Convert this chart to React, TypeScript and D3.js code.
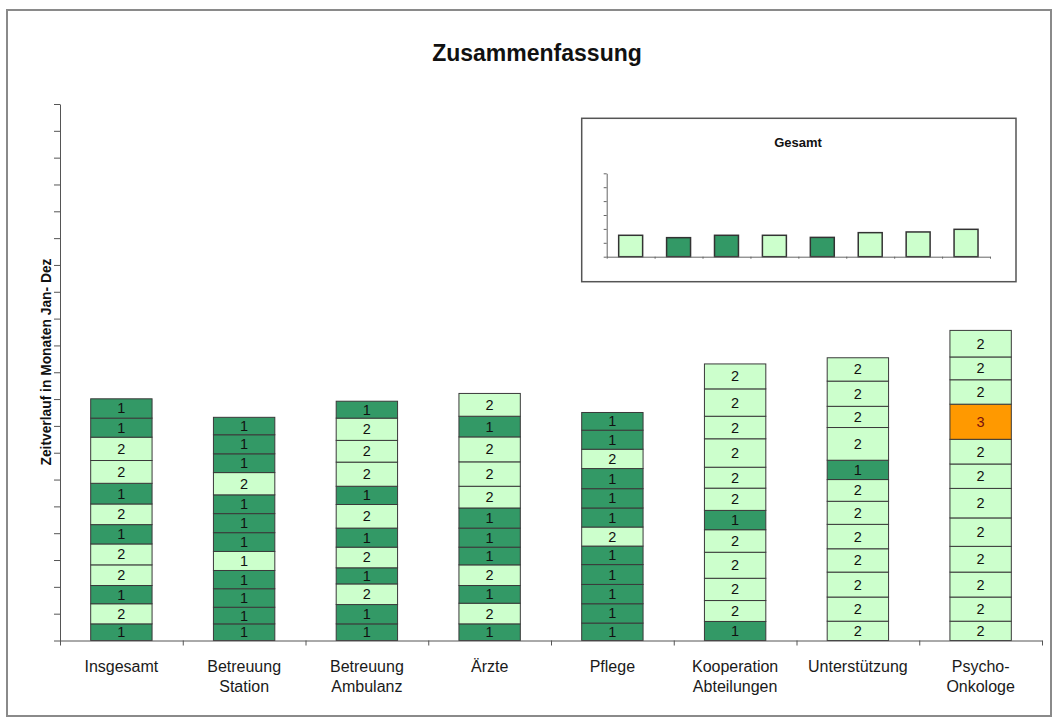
import React, {useEffect, useRef} from 'react';
import * as d3 from 'd3';

// categories (two-line labels under the x axis)
const categories: string[][] = [
  ["Insgesamt"],
  ["Betreuung", "Station"],
  ["Betreuung", "Ambulanz"],
  ["Ärzte"],
  ["Pflege"],
  ["Kooperation", "Abteilungen"],
  ["Unterstützung"],
  ["Psycho-", "Onkologe"],
];

const months = ["Jan", "Feb", "Mär", "Apr", "Mai", "Jun", "Jul", "Aug", "Sep", "Okt", "Nov", "Dez"];

// segment heights per month, bottom (Jan) to top (Dez)
const insgesamtValues = [0.62, 0.75, 0.68, 0.77, 0.78, 0.72, 0.77, 0.77, 0.85, 0.87, 0.71, 0.72];
const stationValues = [0.62, 0.62, 0.69, 0.68, 0.71, 0.70, 0.71, 0.70, 0.83, 0.70, 0.71, 0.65];
const ambulanzValues = [0.62, 0.72, 0.77, 0.60, 0.77, 0.71, 0.88, 0.68, 0.90, 0.81, 0.83, 0.63];
const aerzteValues = [0.62, 0.77, 0.66, 0.77, 0.66, 0.71, 0.75, 0.81, 0.91, 0.93, 0.77, 0.85];
const pflegeValues = [0.65, 0.72, 0.72, 0.74, 0.69, 0.71, 0.71, 0.72, 0.75, 0.72, 0.71, 0.66];
const kooperationValues = [0.71, 0.78, 0.83, 0.97, 0.84, 0.72, 0.83, 0.78, 1.06, 0.84, 1.02, 0.93];
const unterstuetzungValues = [0.72, 0.90, 0.93, 0.87, 0.91, 0.86, 0.81, 0.72, 1.22, 0.79, 0.94, 0.87];
const psychoValues = [0.72, 0.90, 0.93, 0.96, 1.06, 1.10, 0.91, 0.92, 1.31, 0.91, 0.85, 0.99];

// grade per month (controls colour and label), bottom to top
const insgesamtGrades = [1, 2, 1, 2, 2, 1, 2, 1, 2, 2, 1, 1];
const stationGrades = [1, 1, 1, 1, 2, 1, 1, 1, 2, 1, 1, 1];
const ambulanzGrades = [1, 1, 2, 1, 2, 1, 2, 1, 2, 2, 2, 1];
const aerzteGrades = [1, 2, 1, 2, 1, 1, 1, 2, 2, 2, 1, 2];
const pflegeGrades = [1, 1, 1, 1, 1, 2, 1, 1, 1, 2, 1, 1];
const kooperationGrades = [1, 2, 2, 2, 2, 1, 2, 2, 2, 2, 2, 2];
const unterstuetzungGrades = [2, 2, 2, 2, 2, 2, 2, 1, 2, 2, 2, 2];
const psychoGrades = [2, 2, 2, 2, 2, 2, 2, 2, 3, 2, 2, 2];

// one cell is light green but labelled "1" in the original
const labelOverrides = [{cat: 1, month: 4, label: "1"}];

// small "Gesamt" inset
const gesamtValues = [1.54, 1.37, 1.54, 1.54, 1.39, 1.73, 1.78, 1.97];
const gesamtGrades = [2, 1, 1, 2, 1, 2, 2, 2];

const allValues = [insgesamtValues, stationValues, ambulanzValues, aerzteValues,
  pflegeValues, kooperationValues, unterstuetzungValues, psychoValues];
const allGrades = [insgesamtGrades, stationGrades, ambulanzGrades, aerzteGrades,
  pflegeGrades, kooperationGrades, unterstuetzungGrades, psychoGrades];

const gradeColor: Record<number, string> = {1: "#339966", 2: "#CCFFCC", 3: "#FF9900"};
const FONT = "'Liberation Sans', Arial, sans-serif";

const App = () => {
  const ref = useRef<SVGSVGElement>(null);

  useEffect(() => {
    const svg = d3.select(ref.current);
    svg.selectAll("*").remove();

    // outer frame
    svg.append("rect")
      .attr("x", 7).attr("y", 10).attr("width", 1044).attr("height", 706)
      .attr("fill", "white").attr("stroke", "#8a8a8a").attr("stroke-width", 2);

    svg.append("text")
      .attr("x", 537).attr("y", 61)
      .attr("text-anchor", "middle")
      .attr("font-family", FONT).attr("font-size", 23).attr("font-weight", "bold")
      .attr("fill", "#111")
      .text("Zusammenfassung");

    const catNames = categories.map(c => c.join(" "));
    const x = d3.scaleBand<string>().domain(catNames).range([60, 1042])
      .paddingInner(0.5).paddingOuter(0.25);
    const y = d3.scaleLinear().domain([0, 20]).range([640.5, 104]);

    // stack data: one row per category, one key per month
    const rows = catNames.map((name, i) => {
      const r: any = {name};
      months.forEach((m, j) => { r[m] = allValues[i][j]; });
      return r;
    });
    const stacked = d3.stack<any>().keys(months)(rows);

    const plot = svg.append("g");
    stacked.forEach((layer, mi) => {
      layer.forEach((d, ci) => {
        const grade = allGrades[ci][mi];
        const over = labelOverrides.find(o => o.cat === ci && o.month === mi);
        const x0 = x(d.data.name)!;
        plot.append("rect")
          .attr("x", x0).attr("y", y(d[1]))
          .attr("width", x.bandwidth()).attr("height", y(d[0]) - y(d[1]))
          .attr("fill", gradeColor[grade])
          .attr("stroke", "#3a3a3a").attr("stroke-width", 1);
        plot.append("text")
          .attr("x", x0 + x.bandwidth() / 2)
          .attr("y", (y(d[0]) + y(d[1])) / 2 + 5)
          .attr("text-anchor", "middle")
          .attr("font-family", FONT).attr("font-size", 14.5)
          .attr("fill", grade === 3 ? "#7a1010" : "#111")
          .text(over ? over.label : String(grade));
      });
    });

    // y axis: unlabelled ticks
    const yAxis = svg.append("g")
      .attr("transform", "translate(60,0)")
      .call(d3.axisLeft(y).ticks(20).tickSize(6).tickSizeOuter(0).tickFormat(() => ""));
    yAxis.selectAll("path,line").attr("stroke", "#555");

    // x axis: ticks between categories
    const xb = d3.scaleLinear().domain([0, categories.length]).range([60, 1042]);
    const xAxis = svg.append("g")
      .attr("transform", "translate(0,640.5)")
      .call(d3.axisBottom(xb).ticks(categories.length).tickSize(5).tickSizeOuter(0).tickFormat(() => ""));
    xAxis.selectAll("path,line").attr("stroke", "#555");

    categories.forEach((lines, i) => {
      const t = svg.append("text")
        .attr("text-anchor", "middle")
        .attr("font-family", FONT).attr("font-size", 16)
        .attr("fill", "#1a1a1a");
      lines.forEach((ln, k) => {
        t.append("tspan")
          .attr("x", x(catNames[i])! + x.bandwidth() / 2)
          .attr("y", 671.7 + k * 20.6)
          .text(ln);
      });
    });

    svg.append("text")
      .attr("transform", "translate(50.5,362) rotate(-90)")
      .attr("text-anchor", "middle")
      .attr("font-family", FONT).attr("font-size", 13.8).attr("font-weight", "bold")
      .attr("fill", "#111")
      .text("Zeitverlauf in Monaten Jan- Dez");

    // inset "Gesamt"
    const inset = svg.append("g");
    inset.append("rect")
      .attr("x", 581.7).attr("y", 118.3).attr("width", 434.3).attr("height", 163.4)
      .attr("fill", "white").attr("stroke", "#555").attr("stroke-width", 1.5);
    inset.append("text")
      .attr("x", 798).attr("y", 147)
      .attr("text-anchor", "middle")
      .attr("font-family", FONT).attr("font-size", 13).attr("font-weight", "bold")
      .attr("fill", "#111")
      .text("Gesamt");

    const ix = d3.scaleBand<string>().domain(catNames).range([606.7, 990])
      .paddingInner(0.5).paddingOuter(0.25);
    const iy = d3.scaleLinear().domain([0, 6]).range([256.7, 173.3]);

    inset.selectAll(".gbar")
      .data(gesamtValues)
      .enter().append("rect")
      .attr("class", "gbar")
      .attr("x", (_d, i) => ix(catNames[i])!)
      .attr("y", d => iy(d))
      .attr("width", ix.bandwidth())
      .attr("height", d => iy(0) - iy(d))
      .attr("fill", (_d, i) => gradeColor[gesamtGrades[i]])
      .attr("stroke", "#333").attr("stroke-width", 1.5);

    const iyAxis = inset.append("g")
      .attr("transform", "translate(606.7,0)")
      .call(d3.axisLeft(iy).ticks(6).tickSize(3).tickSizeOuter(0).tickFormat(() => ""));
    iyAxis.selectAll("path,line").attr("stroke", "#666");

    const ixb = d3.scaleLinear().domain([0, categories.length]).range([606.7, 990]);
    const ixAxis = inset.append("g")
      .attr("transform", "translate(0,256.7)")
      .call(d3.axisBottom(ixb).ticks(categories.length).tickSize(2).tickSizeOuter(0).tickFormat(() => ""));
    ixAxis.selectAll("path,line").attr("stroke", "#666");
  }, []);

  return (
    <svg ref={ref} width={1057} height={720}
      style={{position: "absolute", left: 0, top: 0, background: "white"}} />
  );
};

export default App;
